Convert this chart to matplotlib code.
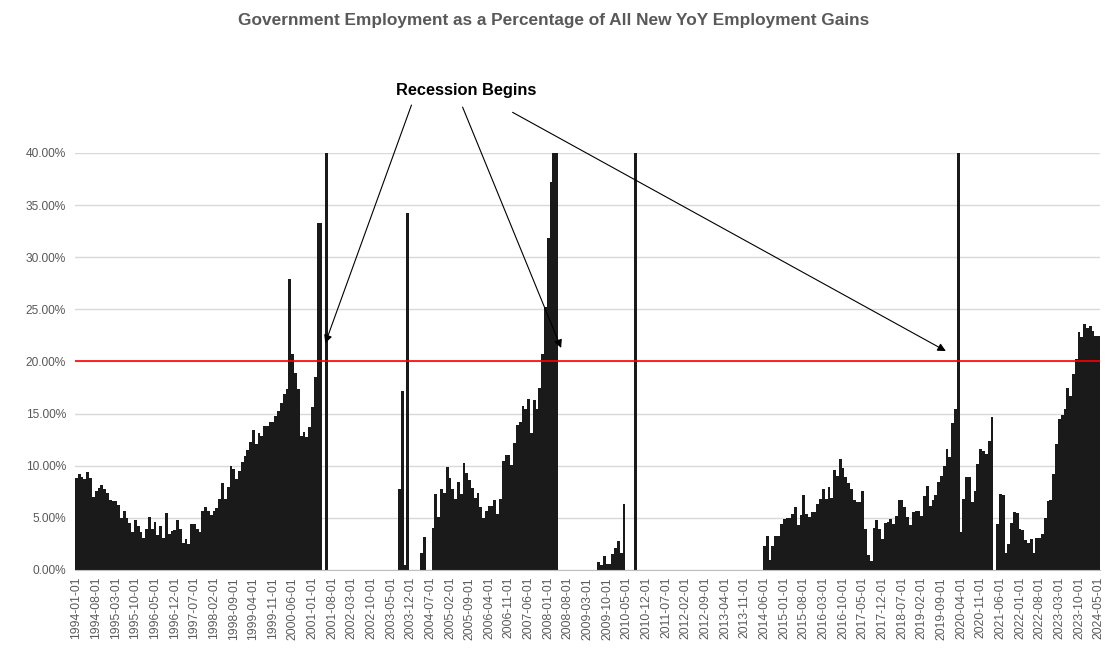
import numpy as np
import pandas as pd
import matplotlib
matplotlib.use('Agg')
import matplotlib.pyplot as plt
from matplotlib.ticker import FuncFormatter

# monthly series, Jan 1994 .. May 2024
months = pd.date_range('1994-01-01', '2024-05-01', freq='MS')

# government share of all new YoY employment gains, in % (one row per year)
# values above 40 run off the top of the chart, below 0 are shown as 0
gov_share = [
    8.85, 9.2, 8.9, 8.75, 9.4, 8.85, 7.0, 7.6, 7.9, 8.2, 7.8, 7.35,          # 1994
    6.7, 6.6, 6.6, 6.2, 5.0, 5.7, 5.0, 4.5, 3.6, 4.75, 4.2, 3.65,            # 1995
    3.05, 3.9, 5.1, 3.95, 4.6, 3.4, 4.2, 3.05, 5.5, 3.5, 3.75, 3.8,          # 1996
    4.75, 3.95, 2.6, 2.95, 2.45, 4.45, 4.45, 3.95, 3.6, 5.7, 6.05, 5.7,      # 1997
    5.25, 5.7, 5.9, 6.85, 8.35, 6.85, 8.0, 9.95, 9.7, 8.75, 9.5, 10.35,      # 1998
    10.9, 11.55, 12.25, 13.4, 12.05, 13.15, 12.9, 13.8, 13.8, 14.2, 14.2, 14.75,  # 1999
    15.25, 16.0, 16.85, 17.4, 27.9, 20.75, 18.9, 17.4, 12.9, 13.2, 12.75, 13.75,  # 2000
    15.65, 18.5, 33.3, 33.3, 0, 60, 0, 0, 0, 0, 0, 0,                        # 2001
    0, 0, 0, 0, 0, 0, 0, 0, 0, 0, 0, 0,                                      # 2002
    0, 0, 0, 0, 0, 0, 0, 7.75, 17.2, 0.5, 34.2, 0,                           # 2003
    0, 0, 0, 1.65, 3.2, 0, 0, 4.0, 7.25, 5.1, 7.8, 7.4,                      # 2004
    9.9, 8.85, 7.75, 6.8, 8.45, 7.25, 10.3, 9.3, 8.6, 7.9, 6.9, 7.4,         # 2005
    6.0, 5.0, 5.7, 6.15, 6.15, 6.7, 5.35, 6.85, 10.45, 11.0, 11.0, 10.1,     # 2006
    12.2, 13.9, 14.2, 15.7, 15.4, 16.4, 13.15, 16.3, 15.45, 17.5, 20.7, 25.25,  # 2007
    31.85, 37.2, 60, 60, 0, 0, 0, 0, 0, 0, 0, 0,                             # 2008
    0, 0, 0, 0, 0, 0, 0.75, 0.45, 1.35, 0.55, 0.55, 1.55,                    # 2009
    2.15, 2.8, 1.65, 6.35, 0, 0, 0, 60, 0, 0, 0, 0,                          # 2010
    0, 0, 0, 0, 0, 0, 0, 0, 0, 0, 0, 0,                                      # 2011
    0, 0, 0, 0, 0, 0, 0, 0, 0, 0, 0, 0,                                      # 2012
    0, 0, 0, 0, 0, 0, 0, 0, 0, 0, 0, 0,                                      # 2013
    0, 0, 0, 0, 0, 2.3, 3.3, 1.0, 2.3, 3.25, 3.3, 4.4,                       # 2014
    4.9, 5.0, 5.0, 5.35, 6.0, 4.3, 5.25, 7.2, 5.4, 5.1, 5.6, 5.6,            # 2015
    6.3, 6.85, 7.75, 6.85, 8.0, 6.9, 9.55, 9.0, 10.6, 9.75, 8.9, 8.35,       # 2016
    7.8, 6.7, 6.55, 6.55, 7.6, 3.95, 1.4, 0.9, 4.0, 4.75, 3.9, 2.95,         # 2017
    4.55, 4.6, 4.9, 4.45, 5.2, 6.7, 6.7, 6.05, 5.1, 4.3, 5.6, 5.7,           # 2018
    5.7, 5.2, 7.1, 8.05, 6.15, 6.7, 7.2, 8.45, 9.0, 10.0, 11.6, 10.85,       # 2019
    14.1, 15.4, 60, 3.6, 6.8, 8.9, 8.9, 6.5, 7.6, 10.2, 11.6, 11.4,          # 2020
    11.1, 12.35, 14.7, 0, 4.45, 7.3, 7.2, 1.65, 2.45, 4.55, 5.6, 5.5,        # 2021
    3.9, 3.8, 2.85, 2.6, 2.95, 1.65, 3.1, 3.05, 3.5, 5.0, 6.6, 6.7,          # 2022
    9.25, 12.05, 14.5, 14.9, 15.4, 17.5, 16.7, 18.8, 20.25, 22.85, 22.35, 23.6,  # 2023
    23.2, 23.4, 22.9, 22.4, 22.4,                                            # 2024
]

threshold = 20.0
recession_starts = ['2001-06-01', '2008-06-01', '2019-11-01']  # where the arrows land
tick_labels = [d.strftime('%Y-%m-%d') for d in months[::7]]

title = 'Government Employment as a Percentage of All New YoY Employment Gains'
note = 'Recession Begins'

sans = ['Liberation Sans', 'DejaVu Sans']
grey = '#595959'

fig = plt.figure(figsize=(11.07, 6.56), dpi=100)
ax = fig.add_axes([0.0678, 0.1311, 0.9259, 0.6357])

x = np.arange(len(months))
ax.bar(x, gov_share, width=1.0, color='#1a1a1a', linewidth=0, zorder=2)
ax.axhline(threshold, color='#ff0000', lw=1.2, zorder=3)

ax.set_xlim(-0.5, len(months) - 0.5)
ax.set_ylim(0, 40)
ax.set_yticks(np.arange(0, 40.1, 5))
ax.yaxis.set_major_formatter(FuncFormatter(lambda v, p: '%.2f%%' % v))
ax.set_xticks(x[::7])
ax.set_xticklabels(tick_labels, rotation=90)
ax.tick_params(axis='y', length=0, pad=6.5, labelsize=8.6, labelcolor=grey)
ax.tick_params(axis='x', length=0, pad=5, labelsize=8.7, labelcolor=grey)
for lab in ax.get_xticklabels() + ax.get_yticklabels():
    lab.set_family(sans)

ax.grid(axis='y', color='#d9d9d9', lw=1, zorder=0)
for s in ['top', 'right', 'left']:
    ax.spines[s].set_visible(False)
ax.spines['bottom'].set_color('#bfbfbf')

fig.text(0.5, 0.968, title, ha='center', va='center', fontsize=12.4,
         fontweight='bold', color=grey, family=sans)

# annotation: one label, three arrows
label_xy = (138.9, 46.0)
starts = [(119.3, 44.6), (137.5, 44.4), (155.3, 43.9)]
tips_y = [21.75, 21.3, 21.0]
ax.text(*label_xy, note, ha='center', va='center', fontsize=11.8, fontweight='bold',
        color='black', family=sans, clip_on=False)
for d, start, ty in zip(recession_starts, starts, tips_y):
    tx = months.get_loc(pd.Timestamp(d)) - 0.4
    ax.annotate('', xy=(tx, ty), xytext=start, annotation_clip=False,
                arrowprops=dict(arrowstyle='-|>', color='black', lw=0.8,
                                mutation_scale=12, shrinkA=0, shrinkB=0))

fig.savefig('out.png', dpi=100)
